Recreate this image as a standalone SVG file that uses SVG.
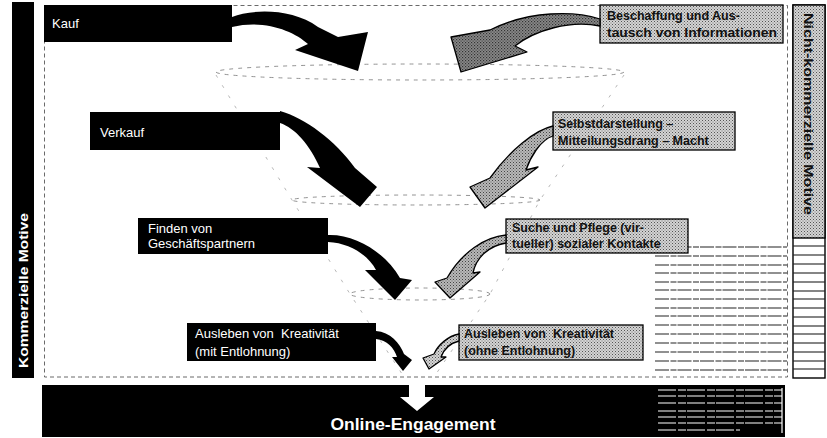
<svg xmlns="http://www.w3.org/2000/svg" width="827" height="438" viewBox="0 0 827 438">
  <defs>
    <!-- halftone grey used for the non-commercial boxes and arrows -->
    <pattern id="tone-light" width="3" height="3" patternUnits="userSpaceOnUse">
      <rect width="3" height="3" fill="#d4d4d4"/>
      <rect x="0" y="0" width="1" height="1" fill="#555"/>
      <rect x="1.5" y="1.5" width="1" height="1" fill="#777"/>
    </pattern>
    <pattern id="tone-mid" width="3" height="3" patternUnits="userSpaceOnUse">
      <rect width="3" height="3" fill="#b8b8b8"/>
      <rect x="0" y="0" width="1" height="1" fill="#444"/>
      <rect x="1.5" y="1.5" width="1" height="1" fill="#666"/>
    </pattern>
    <pattern id="tone-dark" width="3" height="3" patternUnits="userSpaceOnUse">
      <rect width="3" height="3" fill="#8a8a8a"/>
      <rect x="0" y="0" width="1.2" height="1.2" fill="#333"/>
      <rect x="1.5" y="1.5" width="1.2" height="1.2" fill="#444"/>
    </pattern>
  </defs>
  <style>
    .bg { fill: #ffffff; }
    .frame { fill: none; stroke: #444; stroke-width: 0.8; stroke-dasharray: 4 3; }
    .funnel { fill: none; stroke: #777; stroke-width: 0.8; stroke-dasharray: 4 5; }
    .funnel-side { fill: none; stroke: #999; stroke-width: 0.7; stroke-dasharray: 3 9; }
    .cbox { fill: #000; }
    .nbox { fill: url(#tone-light); stroke: #000; stroke-width: 1.3; }
    .ctext { font-family: "Liberation Sans", Arial, sans-serif; font-size: 13px; fill: #fff; white-space: pre; }
    .ntext { font-family: "Liberation Sans", Arial, sans-serif; font-size: 12.5px; font-weight: bold; fill: #111; white-space: pre; }
    .side { font-family: "Liberation Sans", Arial, sans-serif; font-size: 13px; font-weight: bold; }
    .carrow { fill: #000; }
    .narrow { stroke: #000; stroke-width: 1.3; stroke-linejoin: round; }
    .rule { stroke: #222; stroke-width: 1.1; stroke-dasharray: 14 1.5 6 1; }
    .rule-w { stroke: #fff; stroke-width: 1.2; stroke-dasharray: 18 2 8 1; }
  </style>

  <rect class="bg" x="0" y="0" width="827" height="438"/>

  <!-- outer dashed frame -->
  <rect class="frame" x="44.5" y="5.5" width="743" height="371.5"/>

  <!-- funnel outline -->
  <g id="funnel">
    <ellipse class="funnel" cx="420" cy="72" rx="204" ry="8"/>
    <ellipse class="funnel" cx="416" cy="200" rx="124" ry="5"/>
    <ellipse class="funnel" cx="420" cy="294" rx="70" ry="6"/>
    <polyline class="funnel-side" points="216,75 292,200 350,294 404,377"/>
    <polyline class="funnel-side" points="624,75 540,200 490,294 434,377"/>
  </g>

  <!-- lined panel, lower right -->
  <g id="lined-panel">
    <line class="rule" x1="655" y1="247" x2="787" y2="247"/>
    <line class="rule" x1="655" y1="256" x2="787" y2="256"/>
    <line class="rule" x1="655" y1="265" x2="787" y2="265"/>
    <line class="rule" x1="655" y1="273" x2="787" y2="273"/>
    <line class="rule" x1="655" y1="282" x2="787" y2="282"/>
    <line class="rule" x1="655" y1="290" x2="787" y2="290"/>
    <line class="rule" x1="655" y1="299" x2="787" y2="299"/>
    <line class="rule" x1="655" y1="308" x2="787" y2="308"/>
    <line class="rule" x1="655" y1="316" x2="787" y2="316"/>
    <line class="rule" x1="655" y1="325" x2="787" y2="325"/>
    <line class="rule" x1="655" y1="334" x2="787" y2="334"/>
    <line class="rule" x1="655" y1="343" x2="787" y2="343"/>
    <line class="rule" x1="655" y1="352" x2="787" y2="352"/>
    <line class="rule" x1="655" y1="361" x2="787" y2="361"/>
    <line class="rule" x1="655" y1="370" x2="787" y2="370"/>
  </g>

  <!-- left side label: commercial motives -->
  <g id="side-commercial">
    <rect x="12" y="2" width="22" height="376" fill="#000"/>
    <text class="side" fill="#fff" transform="translate(28,368) rotate(-90)" textLength="155" lengthAdjust="spacingAndGlyphs">Kommerzielle Motive</text>
  </g>

  <!-- right side label: non-commercial motives -->
  <g id="side-noncommercial">
    <rect x="793" y="5" width="32" height="373" fill="#fff" stroke="#000" stroke-width="1.4"/>
    <rect x="793" y="5" width="32" height="233" fill="url(#tone-light)" stroke="#000" stroke-width="1.4"/>
    <text class="side" fill="#111" transform="translate(804,13) rotate(90)" textLength="202" lengthAdjust="spacingAndGlyphs">Nicht-kommerzielle Motive</text>
    <g stroke="#222" stroke-width="1.1">
      <line x1="793" y1="246" x2="825" y2="246"/>
      <line x1="793" y1="255" x2="825" y2="255"/>
      <line x1="793" y1="264" x2="825" y2="264"/>
      <line x1="793" y1="273" x2="825" y2="273"/>
      <line x1="793" y1="282" x2="825" y2="282"/>
      <line x1="793" y1="291" x2="825" y2="291"/>
      <line x1="793" y1="299" x2="825" y2="299"/>
      <line x1="793" y1="308" x2="825" y2="308"/>
      <line x1="793" y1="317" x2="825" y2="317"/>
      <line x1="793" y1="326" x2="825" y2="326"/>
      <line x1="793" y1="334" x2="825" y2="334"/>
      <line x1="793" y1="343" x2="825" y2="343"/>
      <line x1="793" y1="352" x2="825" y2="352"/>
      <line x1="793" y1="361" x2="825" y2="361"/>
      <line x1="793" y1="369" x2="825" y2="369"/>
    </g>
  </g>

  <!-- commercial motive boxes -->
  <g id="node-kauf">
    <rect class="cbox" x="44" y="5" width="188" height="37"/>
    <text class="ctext" x="52" y="28">Kauf</text>
  </g>
  <g id="node-verkauf">
    <rect class="cbox" x="90" y="112" width="190" height="38"/>
    <text class="ctext" x="100" y="137">Verkauf</text>
  </g>
  <g id="node-geschaeftspartner">
    <rect class="cbox" x="138" y="218" width="190" height="36"/>
    <text class="ctext" x="148" y="233">Finden von</text>
    <text class="ctext" x="148" y="248">Geschäftspartnern</text>
  </g>
  <g id="node-kreativ-lohn">
    <rect class="cbox" x="187" y="323" width="189" height="38"/>
    <text class="ctext" x="195" y="338">Ausleben von  Kreativität</text>
    <text class="ctext" x="195" y="356">(mit Entlohnung)</text>
  </g>

  <!-- non-commercial motive boxes -->
  <g id="node-information">
    <rect class="nbox" x="600" y="5" width="183" height="38"/>
    <text class="ntext" x="607" y="20">Beschaffung und Aus-</text>
    <text class="ntext" x="607" y="37" textLength="170" lengthAdjust="spacingAndGlyphs">tausch von Informationen</text>
  </g>
  <g id="node-selbstdarstellung">
    <rect class="nbox" x="553" y="112" width="182" height="38"/>
    <text class="ntext" x="558" y="128">Selbstdarstellung –</text>
    <text class="ntext" x="558" y="145">Mitteilungsdrang – Macht</text>
  </g>
  <g id="node-kontakte">
    <rect class="nbox" x="506" y="219" width="182" height="34"/>
    <text class="ntext" x="512" y="232">Suche und Pflege (vir-</text>
    <text class="ntext" x="512" y="248">tueller) sozialer Kontakte</text>
  </g>
  <g id="node-kreativ-ohne">
    <rect class="nbox" x="459" y="325" width="184" height="35"/>
    <text class="ntext" x="464" y="338">Ausleben von  Kreativität</text>
    <text class="ntext" x="464" y="355">(ohne Entlohnung)</text>
  </g>

  <!-- curved block arrows into the funnel -->
  <g id="connectors">
    <path class="carrow" d="M232,17 C252,9 292,8 318,27 L338,37 L368,32 L358,71 L295,50 L308,44 C294,31 264,19 232,27 Z"/>
    <path class="carrow" d="M280,111 C305,118 335,140 355,168 L377,187 L360,207 L307,167 L320,168 C310,145 295,128 280,123 Z"/>
    <path class="carrow" d="M328,235 C355,234 385,252 400,278 L412,280 L395,300 L365,270 L376,270 C368,255 350,243 328,242 Z"/>
    <path class="carrow" d="M376,331 C390,332 400,343 404,354 L412,360 L403,371 L392,357 L397,357 C394,348 387,340 376,339 Z"/>

    <path class="narrow" fill="url(#tone-dark)" d="M600,19 C575,11 530,10 490,30 L451,37 L461,72 L527,52 L515,46 C535,30 570,20 600,26 Z"/>
    <path class="narrow" fill="url(#tone-mid)" d="M553,126 C535,130 510,150 490,178 L470,187 L485,208 L538,167 L526,170 C530,158 540,140 553,136 Z"/>
    <path class="narrow" fill="url(#tone-mid)" d="M506,235 C485,237 462,252 447,278 L435,282 L450,298 L480,272 L473,273 C476,258 488,246 506,243 Z"/>
    <path class="narrow" fill="url(#tone-light)" d="M459,334 C448,336 438,345 434,354 L423,358 L429,369 L446,357 L441,357 C444,349 451,343 459,341 Z"/>
  </g>

  <!-- result bar -->
  <g id="node-engagement">
    <rect x="42" y="385" width="743" height="52" fill="#000"/>
    <g>
      <line class="rule-w" x1="658" y1="390" x2="782" y2="390"/>
      <line class="rule-w" x1="658" y1="396" x2="782" y2="396"/>
      <line class="rule-w" x1="658" y1="403" x2="782" y2="403"/>
      <line class="rule-w" x1="658" y1="411" x2="782" y2="411"/>
      <line class="rule-w" x1="658" y1="417" x2="782" y2="417"/>
      <line class="rule-w" x1="658" y1="423" x2="782" y2="423"/>
      <line class="rule-w" x1="658" y1="430" x2="740" y2="430"/>
      <line x1="782" y1="388" x2="782" y2="433" stroke="#fff" stroke-width="1.2"/>
    </g>
    <polygon fill="#fff" points="409,378 425,378 425,397 434,397 417,411 400,397 409,397"/>
    <text x="413" y="430" text-anchor="middle" font-family="'Liberation Sans', Arial, sans-serif" font-size="17" font-weight="bold" fill="#fff" textLength="165" lengthAdjust="spacingAndGlyphs">Online-Engagement</text>
  </g>
</svg>
